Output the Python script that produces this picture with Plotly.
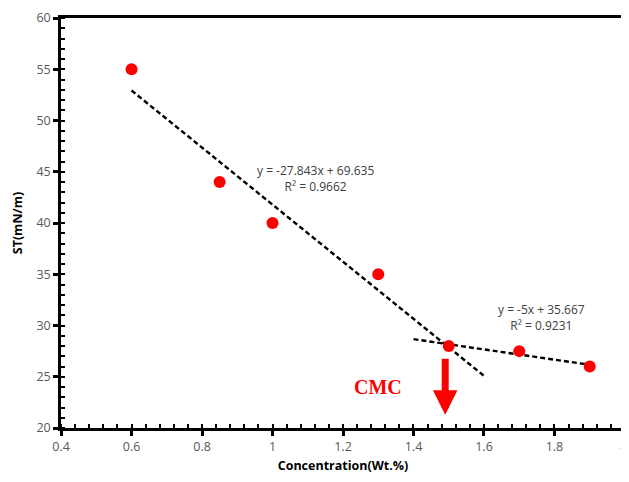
import plotly.graph_objects as go

conc = [0.6, 0.85, 1.0, 1.3, 1.5, 1.7, 1.9]
st = [55.0, 44.0, 40.0, 35.0, 28.0, 27.5, 26.0]

x_ticks = [0.4, 0.6, 0.8, 1.0, 1.2, 1.4, 1.6, 1.8, 2.0]
x_tick_labels = ["0.4", "0.6", "0.8", "1", "1.2", "1.4", "1.6", "1.8", "2"]

# linear fits shown on chart
fit1_slope, fit1_int = -27.843, 69.635
fit1_x = [0.6, 1.6]
fit2_slope, fit2_int = -5.0, 35.667
fit2_x = [1.4, 1.9]

fit1_y = [fit1_slope * x + fit1_int for x in fit1_x]
fit2_y = [fit2_slope * x + fit2_int for x in fit2_x]

fig = go.Figure()
fig.add_trace(go.Scatter(x=fit1_x, y=fit1_y, mode="lines",
                         line=dict(color="black", width=2.4, dash="5px,3px"), showlegend=False))
fig.add_trace(go.Scatter(x=fit2_x, y=fit2_y, mode="lines",
                         line=dict(color="black", width=2.4, dash="5px,3px"), showlegend=False))
fig.add_trace(go.Scatter(x=conc, y=st, mode="markers",
                         marker=dict(color="#ff0000", size=12), showlegend=False))

eq_font = dict(family="Open Sans, Liberation Sans, sans-serif", size=12, color="#404040")
fig.add_annotation(x=1.122, y=44.3, text="y = -27.843x + 69.635<br>R² = 0.9662",
                   showarrow=False, font=eq_font, align="center")
fig.add_annotation(x=1.762, y=30.8, text="y = -5x + 35.667<br>R² = 0.9231",
                   showarrow=False, font=eq_font, align="center")
fig.add_annotation(x=1.30, y=24.0, text="<b>CMC</b>", showarrow=False,
                   font=dict(family="Liberation Serif, Times New Roman, serif", size=20, color="#ff0000"))
fig.add_annotation(x=1.49, y=21.3, ax=1.49, ay=26.9, xref="x", yref="y", axref="x", ayref="y",
                   text="", showarrow=True, arrowhead=2, arrowsize=0.7, arrowwidth=7,
                   arrowcolor="#ff0000")

tick_font = dict(family="Open Sans, Liberation Sans, sans-serif", size=12.5, color="#595959")
title_font = dict(family="Open Sans, Liberation Sans, sans-serif", size=12.5, color="#000000")

# the last x tick label sits at the page edge; draw it as an annotation so it is not hidden
fig.add_annotation(x=x_ticks[-1], xref="x", y=0, yref="paper", text=x_tick_labels[-1],
                   showarrow=False, xanchor="right", yanchor="top", xshift=4, yshift=-6,
                   font=tick_font)

fig.update_xaxes(range=[0.3999, 2.0001], tickmode="array", tickvals=x_ticks,
                 ticktext=x_tick_labels[:-1] + [""],
                 showgrid=False, zeroline=False,
                 showline=True, linecolor="black", linewidth=2.5, mirror=True,
                 ticks="outside", ticklen=5, tickwidth=2.5, tickcolor="black",
                 tickfont=tick_font, automargin=False,
                 minor=dict(tick0=0.4, dtick=0.04, ticks="inside", ticklen=4, tickwidth=2, tickcolor="black"),
                 title=dict(text="<b>Concentration(Wt.%)</b>", font=title_font, standoff=8))
fig.update_yaxes(range=[20, 60], dtick=5, showgrid=False, zeroline=False,
                 showline=True, linecolor="black", linewidth=2.5, mirror=True,
                 ticks="outside", ticklen=5, tickwidth=2.5, tickcolor="black",
                 tickfont=tick_font, automargin=False,
                 minor=dict(dtick=1, ticks="inside", ticklen=4, tickwidth=2, tickcolor="black"),
                 title=dict(text="<b>ST(mN/m)</b>", font=title_font, standoff=12))

# page body has an 8px default margin, so the figure is sized/offset to compensate
fig.update_layout(width=621, height=474, margin=dict(l=53, r=4, t=10, b=54),
                  paper_bgcolor="white", plot_bgcolor="white")

fig.write_html("out.html")
